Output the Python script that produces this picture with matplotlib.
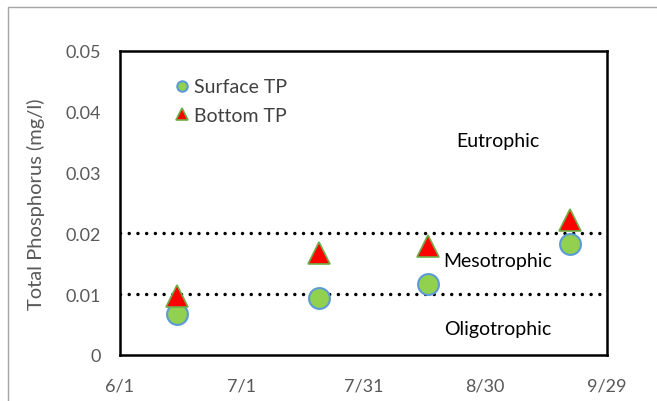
import datetime as dt
import matplotlib
matplotlib.use("Agg")
import matplotlib.pyplot as plt
from matplotlib.patches import Rectangle

plt.rcParams['font.family'] = ['Lato', 'DejaVu Sans']

# sampling dates and total phosphorus (mg/l)
dates = [dt.date(2016, 6, 15), dt.date(2016, 7, 20), dt.date(2016, 8, 16), dt.date(2016, 9, 20)]
surface_tp = [0.0067, 0.0093, 0.0116, 0.0182]
bottom_tp = [0.0097, 0.0167, 0.0180, 0.0222]

# trophic state thresholds and zone labels
thresholds = [0.01, 0.02]
zone_names = ["Eutrophic", "Mesotrophic", "Oligotrophic"]
zone_y = [0.0352, 0.0156, 0.0043]
zone_x = dt.date(2016, 9, 2)

tick_dates = [dt.date(2016, 6, 1), dt.date(2016, 7, 1), dt.date(2016, 7, 31),
              dt.date(2016, 8, 30), dt.date(2016, 9, 29)]
tick_labels = ["6/1", "7/1", "7/31", "8/30", "9/29"]

fig = plt.figure(figsize=(6.57, 4.02), dpi=100)
ax = fig.add_axes([120 / 657, 1 - 356 / 402, 487 / 657, 304 / 402])

# outer chart border
fig.patches.append(Rectangle((8 / 657, -0.1), 1.2, 1 - 8 / 402 + 0.1,
                             transform=fig.transFigure, fill=False,
                             edgecolor="#A6A6A6", lw=1))

for t in thresholds:
    ax.axhline(t, color="black", lw=2.5, linestyle=(0, (0.01, 2.5)),
               dash_capstyle="round", zorder=1)

ax.plot(dates, surface_tp, linestyle="none", marker="o", markersize=15,
        markerfacecolor="#92D050", markeredgecolor="#5B9BD5", markeredgewidth=1.5,
        label="Surface TP", zorder=3)
ax.plot(dates, bottom_tp, linestyle="none", marker="^", markersize=16,
        markerfacecolor="#FF0000", markeredgecolor="#70AD47", markeredgewidth=1.2,
        label="Bottom TP", zorder=4)

for name, y in zip(zone_names, zone_y):
    ax.text(zone_x, y, name, ha="center", va="center", fontsize=14, color="black")

ax.set_xlim(tick_dates[0], tick_dates[-1])
ax.set_ylim(0, 0.05)
ax.set_xticks(tick_dates)
ax.set_xticklabels(tick_labels)
ax.set_yticks([0, 0.01, 0.02, 0.03, 0.04, 0.05])
ax.set_yticklabels(["0", "0.01", "0.02", "0.03", "0.04", "0.05"])
ax.tick_params(axis="both", length=0, labelsize=13, labelcolor="#595959")
ax.tick_params(axis="x", pad=16)
ax.tick_params(axis="y", pad=14)

for s in ax.spines.values():
    s.set_linewidth(1.8)
    s.set_color("black")

ax.set_ylabel("Total Phosphorus (mg/l)", fontsize=14.5, color="#595959")
ax.yaxis.set_label_coords(-0.154, 0.5)

ax.legend(loc="upper left", bbox_to_anchor=(0.115, 0.91), frameon=False,
          borderaxespad=0, borderpad=0, handlelength=0.65, handletextpad=0.3,
          labelspacing=0.6, markerscale=0.5, fontsize=14, labelcolor="#404040")

fig.savefig("out.png", dpi=100)
